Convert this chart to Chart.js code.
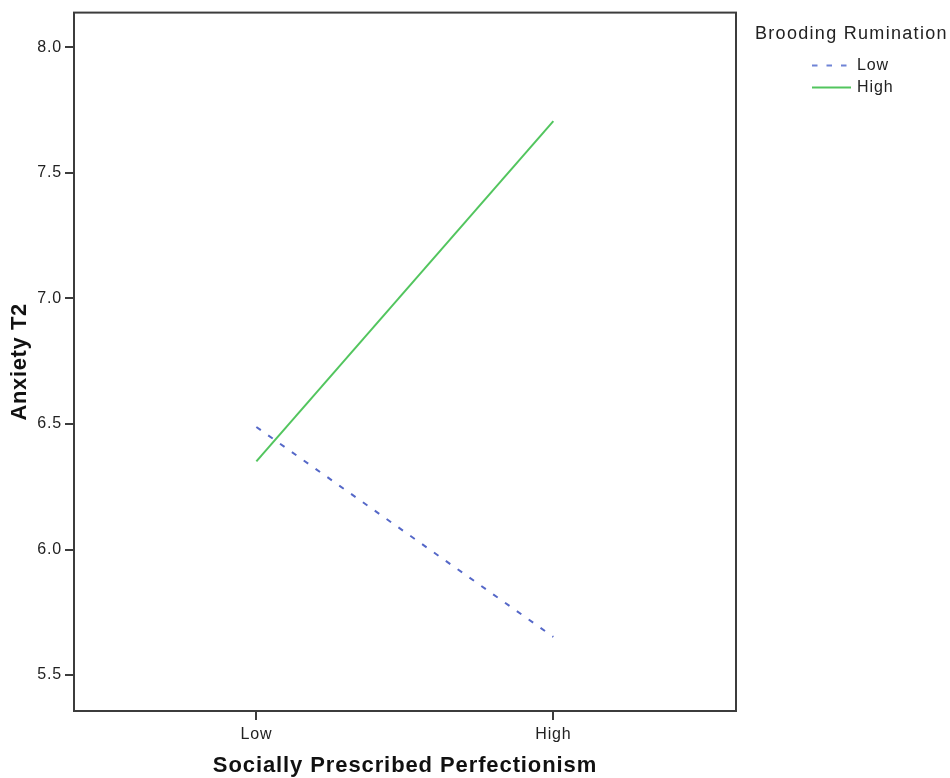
<!DOCTYPE html>
<html>
<head>
<meta charset="utf-8">
<script src="https://cdn.jsdelivr.net/npm/chart.js@4/dist/chart.umd.min.js"></script>
<style>
html,body{margin:0;padding:0;background:#fff;}
#wrap{position:relative;width:950px;height:778px;}
</style>
</head>
<body>
<div id="wrap"><canvas id="c" width="950" height="778"></canvas></div>
<script>
const categories = ["Low", "High"];
const seriesNames = ["Low", "High"];
const lowRumination = [6.488, 5.652];
const highRumination = [6.351, 7.706];
const yTicks = [5.5, 6.0, 6.5, 7.0, 7.5, 8.0];
const legendTitle = "Brooding Rumination";
const xTitle = "Socially Prescribed Perfectionism";
const yTitle = "Anxiety T2";

const FONT = "'Liberation Sans', Arial, sans-serif";

const spacingPlugin = {
  id: 'spacing',
  beforeUpdate(chart) { chart.ctx.letterSpacing = '0.8px'; },
  beforeLayout(chart) { chart.ctx.letterSpacing = '0.8px'; },
  beforeDraw(chart) { chart.ctx.letterSpacing = '0.8px'; }
};

const framePlugin = {
  id: 'frame',
  afterDatasetsDraw(chart) {
    const {ctx, chartArea: a} = chart;
    ctx.save();
    ctx.strokeStyle = '#3c3c3c';
    ctx.lineWidth = 2;
    ctx.strokeRect(a.left, a.top, a.right - a.left, a.bottom - a.top);
    ctx.restore();
  }
};

const textPlugin = {
  id: 'texts',
  afterDraw(chart) {
    const ctx = chart.ctx;
    const a = chart.chartArea;
    ctx.save();
    // axis titles
    ctx.fillStyle = '#111';
    ctx.textBaseline = 'middle';
    ctx.textAlign = 'center';
    ctx.font = "bold 22px " + FONT;
    ctx.letterSpacing = '0.9px';
    ctx.fillText(xTitle, (a.left + a.right) / 2, 766);
    ctx.save();
    ctx.translate(20, (a.top + a.bottom) / 2);
    ctx.rotate(-Math.PI / 2);
    ctx.letterSpacing = '0.6px';
    ctx.fillText(yTitle, 0, 0);
    ctx.restore();
    // legend
    ctx.fillStyle = '#222';
    ctx.textAlign = 'left';
    ctx.font = "18px " + FONT;
    ctx.letterSpacing = '1.3px';
    ctx.fillText(legendTitle, 755, 34);
    ctx.font = "16px " + FONT;
    ctx.letterSpacing = '0.9px';
    chart.data.datasets.forEach((ds, i) => {
      const y = 65.5 + i * 22;
      ctx.strokeStyle = ds.legendColor || ds.borderColor;
      ctx.lineWidth = 2;
      ctx.setLineDash(ds.borderDash || []);
      ctx.beginPath();
      ctx.moveTo(812, y);
      ctx.lineTo(851, y);
      ctx.stroke();
      ctx.setLineDash([]);
      ctx.fillStyle = '#222';
      ctx.fillText(ds.label, 857, y + 0.5);
    });
    ctx.restore();
  }
};

new Chart(document.getElementById('c'), {
  type: 'line',
  data: {
    datasets: [
      {
        label: seriesNames[0],
        data: categories.map((c, i) => ({x: i, y: lowRumination[i]})),
        borderColor: '#5568c8',
        legendColor: '#6f83d6',
        borderWidth: 2,
        borderDash: [5.5, 9],
        pointRadius: 0,
        fill: false,
        tension: 0
      },
      {
        label: seriesNames[1],
        data: categories.map((c, i) => ({x: i, y: highRumination[i]})),
        borderColor: '#52c55e',
        borderWidth: 2,
        pointRadius: 0,
        fill: false,
        tension: 0
      }
    ]
  },
  options: {
    responsive: false,
    animation: false,
    layout: {padding: {top: 12, right: 214, left: 0, bottom: 0}},
    plugins: {legend: {display: false}, tooltip: {enabled: false}},
    scales: {
      x: {
        type: 'linear',
        min: -0.614,
        max: 1.615,
        afterBuildTicks(scale) { scale.ticks = categories.map((c, i) => ({value: i})); },
        afterFit(scale) { scale.height = 67; },
        border: {display: false},
        grid: {drawOnChartArea: false, drawTicks: true, tickLength: 9, color: '#3c3c3c', lineWidth: 2},
        ticks: {
          callback: (v) => categories[v] ?? '',
          font: {family: FONT, size: 16},
          color: '#222',
          padding: 5,
          maxRotation: 0
        },
        title: {display: false}
      },
      y: {
        type: 'linear',
        min: 5.357,
        max: 8.138,
        afterBuildTicks(scale) { scale.ticks = yTicks.map(v => ({value: v})); },
        afterFit(scale) { scale.width = 74; },
        border: {display: false},
        grid: {drawOnChartArea: false, drawTicks: true, tickLength: 9, color: '#3c3c3c', lineWidth: 2},
        ticks: {
          callback: (v) => v.toFixed(1),
          font: {family: FONT, size: 16},
          color: '#222',
          padding: 3
        },
        title: {display: false}
      }
    }
  },
  plugins: [spacingPlugin, framePlugin, textPlugin]
});
</script>
</body>
</html>
